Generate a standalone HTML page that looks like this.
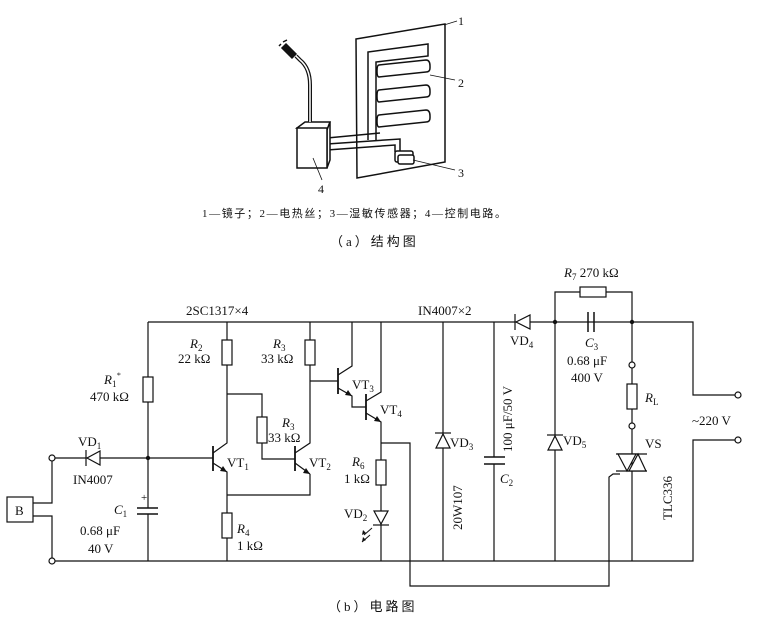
<!DOCTYPE html>
<html><head><meta charset="utf-8"><style>
html,body{margin:0;padding:0;background:#fff;}
svg{display:block;}
text{font-family:"Liberation Serif","Noto Serif CJK SC",serif;fill:#111;}
.c{font-family:"Liberation Serif","Noto Sans CJK SC",serif;}
</style></head><body>
<svg width="763" height="624" viewBox="0 0 763 624" xmlns="http://www.w3.org/2000/svg">
<!-- (a) structure -->
<g fill="none" stroke="#111" stroke-width="1.5">
<polygon points="356,39 445,24 445,162 357,178" fill="#fff"/>
<!-- spine + top band -->
<path d="M368,140 L368,52 L428,44 L428,56 L376,62 L376,140"/>
<!-- rows -->
<path d="M379,65 L426,60 Q430,60 430,66 L430,68 Q430,72 426,72 L379,77 Q377,77 377,71 Q377,65 379,65 Z"/>
<path d="M379,90 L426,85 Q430,85 430,91 L430,93 Q430,97 426,97 L379,102 Q377,102 377,96 Q377,90 379,90 Z"/>
<path d="M379,115 L426,110 Q430,110 430,116 L430,118 Q430,122 426,122 L379,127 Q377,127 377,121 Q377,115 379,115 Z"/>
<!-- wires -->
<path d="M327,138 L380,133 M327,144 L400,139 L400,152 M327,150 L395,145 L395,152"/>
<!-- sensor -->
<rect x="395" y="151" width="18" height="11" rx="2" fill="#fff"/>
<rect x="398" y="155" width="16" height="9" rx="2" fill="#fff"/>
<!-- box -->
<polygon points="297,128 305,122 330,122 327,130" fill="#fff"/>
<polygon points="327,130 330,122 330,160 327,168" fill="#fff"/>
<rect x="297" y="128" width="30" height="40" fill="#fff"/>
<!-- cord -->
<path d="M310,122 L310,85 Q310,68 300,60 L296,56" stroke-width="4"/>
<path d="M310,122 L310,85 Q310,68 300,60 L296,56" stroke="#fff" stroke-width="1.5"/>
<path d="M286,44 L296,54 L292,58 L282,48 Z" fill="#111"/>
<path d="M283,42 L287,40 M279,46 L281,44" stroke-width="1.5"/>
<!-- leaders -->
<path d="M444,25 L457,21 M430,75 L455,80 M413,160 L455,170 M313,158 L322,180" stroke-width="0.8"/>
</g>
<text x="458" y="25" font-size="12">1</text>
<text x="458" y="87" font-size="12">2</text>
<text x="458" y="177" font-size="12">3</text>
<text x="318" y="193" font-size="12">4</text>
<text x="202" y="217" font-size="11" class="c" letter-spacing="1.6">1—镜子；2—电热丝；3—湿敏传感器；4—控制电路。</text>
<text x="330" y="246" font-size="13" class="c" letter-spacing="3">（a）结构图</text>

<!-- (b) circuit -->
<g fill="none" stroke="#111" stroke-width="1.2">
<path d="M148,322 L693,322 L693,395 L735,395"/>
<path d="M52,561 L693,561 L693,440 L735,440"/>
<circle cx="738" cy="395" r="3" fill="#fff"/><circle cx="738" cy="440" r="3" fill="#fff"/>
<rect x="7" y="497" width="26" height="25" fill="#fff"/>
<path d="M33,503 L52,503 L52,461 M33,516 L52,516 L52,558"/>
<circle cx="52" cy="458" r="3" fill="#fff"/><circle cx="52" cy="561" r="3" fill="#fff"/>
<path d="M55,458 L213,458"/>
<polygon points="100,451 100,465 87,458" fill="#fff"/><path d="M86,450 L86,466"/>
<path d="M148,322 L148,508 M148,514 L148,561"/>
<rect x="143" y="377" width="10" height="25" fill="#fff"/>
<path d="M137,508 L158,508 M137,514 L158,514" stroke-width="1.5"/>
<path d="M213,446 L213,471" stroke-width="1.8"/>
<path d="M213,453 L227,443 L227,322 M213,463 L227,472 L227,561 M227,495 L310,495 L310,474"/>
<rect x="222" y="340" width="10" height="25" fill="#fff"/>
<rect x="222" y="513" width="10" height="25" fill="#fff"/>
<path d="M227,394 L262,394 L262,459 L295,459"/>
<rect x="257" y="417" width="10" height="26" fill="#fff"/>
<path d="M295,446 L295,471" stroke-width="1.8"/>
<path d="M295,453 L310,443 L310,322 M295,463 L310,474"/>
<rect x="305" y="340" width="10" height="25" fill="#fff"/>
<path d="M310,381 L338,381"/>
<path d="M338,368 L338,394" stroke-width="1.8"/>
<path d="M338,375 L352,366 L352,322 M338,388 L352,396 L352,407 L366,407"/>
<path d="M366,394 L366,420" stroke-width="1.8"/>
<path d="M366,401 L381,392 L381,322 M366,413 L381,422 L381,561"/>
<rect x="376" y="460" width="10" height="25" fill="#fff"/>
<polygon points="374,511 388,511 381,524" fill="#fff"/><path d="M373,525 L389,525"/>
<path d="M372,528 L364,535 M370,535 L362,542" stroke-width="1"/>
<path d="M381,443 L410,443 L410,586 L609,586 L609,477 L613,474 L620,474"/>
<path d="M443,322 L443,561"/>
<polygon points="436,448 450,448 443,434" fill="#fff"/><path d="M435,433 L451,433"/>
<path d="M494,322 L494,457 M494,464 L494,561"/>
<path d="M484,457 L505,457 M484,464 L505,464" stroke-width="1.5"/>
</g>
<g fill="#111">
<polygon points="227,472 220,471 223,466"/>
<polygon points="310,474 303,473 306,468"/>
<polygon points="352,396 345,395 348,390"/>
<polygon points="381,422 374,421 377,416"/>
<polygon points="362,535 363,530 366,533"/>
<polygon points="362,542 363,537 366,540"/>
</g>
<g fill="none" stroke="#111" stroke-width="1.2">
<polygon points="530,315 530,329 516,322" fill="#fff"/><path d="M515,314 L515,330"/>
<path d="M555,322 L555,292 L632,292 L632,365"/>
<rect x="580" y="287" width="26" height="10" fill="#fff"/>
<path d="M555,322 L588,322 M594,322 L632,322" stroke="#fff" stroke-width="3"/>
<path d="M555,322 L588,322 M594,322 L632,322"/>
<path d="M588,312 L588,332 M594,312 L594,332" stroke-width="1.5"/>
<path d="M555,322 L555,561"/>
<polygon points="548,450 562,450 555,436" fill="#fff"/><path d="M547,435 L563,435"/>
<circle cx="632" cy="365" r="3" fill="#fff"/>
<rect x="627" y="384" width="10" height="25" fill="#fff"/>
<path d="M632,368 L632,384 M632,409 L632,423"/>
<circle cx="632" cy="426" r="3" fill="#fff"/>
<path d="M632,429 L632,561"/>
<path d="M616,454 L647,454 M616,471 L647,471"/>
<polygon points="618,454 636,454 627,471" fill="#fff"/>
<polygon points="629,471 646,471 638,454" fill="#fff"/>
</g>
<g fill="#111">
<circle cx="148" cy="458" r="2.2"/><circle cx="555" cy="322" r="2.2"/><circle cx="632" cy="322" r="2.2"/>
</g>

<g font-size="13">
<text x="186" y="315">2SC1317×4</text>
<text x="418" y="315">IN4007×2</text>
<text x="15" y="515">B</text>
<text x="78" y="446">VD<tspan font-size="9" dy="3">1</tspan></text>
<text x="73" y="484">IN4007</text>
<text x="104" y="384" font-style="italic">R<tspan font-size="9" dy="3" font-style="normal">1</tspan><tspan font-size="8" dy="-9">*</tspan></text>
<text x="90" y="401">470 kΩ</text>
<text x="114" y="514" font-style="italic">C<tspan font-size="9" dy="3" font-style="normal">1</tspan></text>
<text x="141" y="501" font-size="11">+</text>
<text x="80" y="535">0.68 μF</text>
<text x="88" y="553">40 V</text>
<text x="190" y="348" font-style="italic">R<tspan font-size="9" dy="3" font-style="normal">2</tspan></text>
<text x="178" y="363">22 kΩ</text>
<text x="273" y="348" font-style="italic">R<tspan font-size="9" dy="3" font-style="normal">3</tspan></text>
<text x="261" y="363">33 kΩ</text>
<text x="282" y="427" font-style="italic">R<tspan font-size="9" dy="3" font-style="normal">3</tspan></text>
<text x="268" y="442">33 kΩ</text>
<text x="227" y="467">VT<tspan font-size="9" dy="3">1</tspan></text>
<text x="309" y="467">VT<tspan font-size="9" dy="3">2</tspan></text>
<text x="352" y="389">VT<tspan font-size="9" dy="3">3</tspan></text>
<text x="380" y="414">VT<tspan font-size="9" dy="3">4</tspan></text>
<text x="352" y="466" font-style="italic">R<tspan font-size="9" dy="3" font-style="normal">6</tspan></text>
<text x="344" y="483">1 kΩ</text>
<text x="344" y="518">VD<tspan font-size="9" dy="3">2</tspan></text>
<text x="237" y="533" font-style="italic">R<tspan font-size="9" dy="3" font-style="normal">4</tspan></text>
<text x="237" y="550">1 kΩ</text>
<text x="450" y="447">VD<tspan font-size="9" dy="3">3</tspan></text>
<text x="462" y="530" transform="rotate(-90 462 530)">20W107</text>
<text x="512" y="452" transform="rotate(-90 512 452)">100 μF/50 V</text>
<text x="500" y="483" font-style="italic">C<tspan font-size="9" dy="3" font-style="normal">2</tspan></text>
<text x="510" y="345">VD<tspan font-size="9" dy="3">4</tspan></text>
<text x="563" y="445">VD<tspan font-size="9" dy="3">5</tspan></text>
<text x="564" y="277"><tspan font-style="italic">R</tspan><tspan font-size="9" dy="3">7</tspan><tspan dy="-3"> 270 kΩ</tspan></text>
<text x="585" y="347" font-style="italic">C<tspan font-size="9" dy="3" font-style="normal">3</tspan></text>
<text x="567" y="365">0.68 μF</text>
<text x="571" y="382">400 V</text>
<text x="645" y="402" font-style="italic">R<tspan font-size="9" dy="3" font-style="normal">L</tspan></text>
<text x="645" y="448">VS</text>
<text x="672" y="520" transform="rotate(-90 672 520)">TLC336</text>
<text x="692" y="425">~220 V</text>
</g>
<text x="328" y="611" font-size="13" class="c" letter-spacing="3">（b）电路图</text>
</svg>
</body></html>
